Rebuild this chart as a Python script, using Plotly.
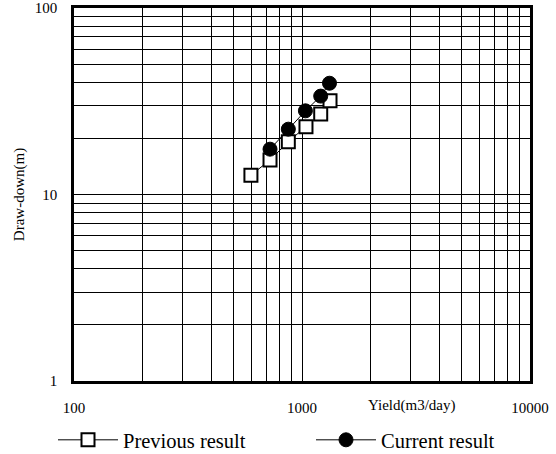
import plotly.graph_objects as go

# Data
prev_yield = [597, 724, 871, 1041, 1208, 1327]
prev_draw = [12.7, 15.3, 19.2, 23.1, 27.0, 31.8]
curr_yield = [724, 871, 1035, 1208, 1320]
curr_draw = [17.5, 22.4, 28.1, 33.7, 39.5]

x_grid = [100, 200, 300, 400, 500, 600, 700, 800, 900, 1000, 2000, 3000, 4000, 5000,
          6000, 7000, 8000, 9000, 10000]
x_labels = ["100" if v == 100 else "1000" if v == 1000 else "10000" if v == 10000 else "" for v in x_grid]
y_grid = [1, 2, 3, 4, 5, 6, 7, 8, 9, 10, 20, 30, 40, 50, 60, 70, 80, 90, 100]
y_labels = ["1" if v == 1 else "10" if v == 10 else "100" if v == 100 else "" for v in y_grid]

FONT = "Liberation Serif"

# plot area in page coords: x 74..530, y 8..381
fig = go.Figure()
fig.add_trace(go.Scatter(
    x=prev_yield, y=prev_draw, mode="lines+markers", name="Previous result",
    line=dict(color="black", width=1), legend="legend",
    marker=dict(symbol="square", size=13, color="white", line=dict(color="black", width=2)),
))
fig.add_trace(go.Scatter(
    x=curr_yield, y=curr_draw, mode="lines+markers", name="Current result",
    line=dict(color="black", width=1), legend="legend2",
    marker=dict(symbol="circle", size=14, color="black", line=dict(color="black", width=1)),
))

leg_common = dict(orientation="h", xanchor="left", yref="paper", y=(381 - 440) / 373,
                  yanchor="middle", font=dict(family=FONT, size=20.5, color="black"),
                  itemwidth=60, bgcolor="rgba(0,0,0,0)")

fig.update_layout(
    width=556, height=454,
    margin=dict(l=74, r=26, t=8, b=73, autoexpand=False),
    paper_bgcolor="white", plot_bgcolor="white",
    font=dict(family=FONT, size=15, color="black"),
    showlegend=True,
    legend=dict(x=(53 - 74) / 456, **leg_common),
    legend2=dict(x=(311 - 74) / 456, **leg_common),
    xaxis=dict(type="log", range=[2, 4], tickmode="array", tickvals=x_grid, ticktext=x_labels,
               showgrid=True, gridcolor="black", gridwidth=1, ticks="", ticklen=0,
               showline=True, linecolor="black", linewidth=2.5, mirror=True,
               zeroline=False, tickfont=dict(size=15), ticklabelstandoff=11),
    yaxis=dict(type="log", range=[0, 2], tickmode="array", tickvals=y_grid, ticktext=y_labels,
               showgrid=True, gridcolor="black", gridwidth=1, ticks="",
               showline=True, linecolor="black", linewidth=2.5, mirror=True,
               zeroline=False, tickfont=dict(size=15), ticklabelstandoff=11,
               title=dict(text="Draw-down(m)", font=dict(size=15), standoff=7)),
)
fig.add_annotation(text="Yield(m3/day)", xref="paper", yref="paper",
                   x=(411 - 74) / 456, y=(381 - 405) / 373, showarrow=False,
                   xanchor="center", yanchor="middle", font=dict(family=FONT, size=15))

fig.write_html("out.html", config={"displayModeBar": False},
               post_script="document.body.style.margin='0px';")
